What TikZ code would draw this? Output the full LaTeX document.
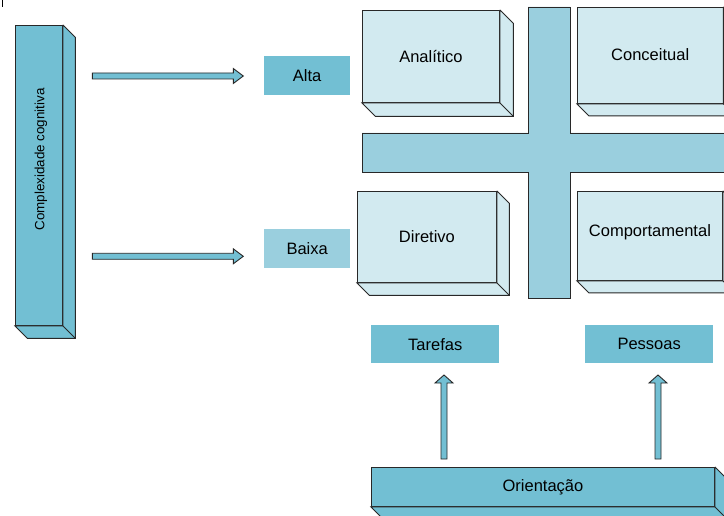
\documentclass[tikz,border=0pt]{standalone}
\usepackage{fontspec}
\setmainfont{Liberation Sans}
\usetikzlibrary{calc}
\definecolor{midblue}{RGB}{114,191,211}
\definecolor{lightblue}{RGB}{154,207,222}
\definecolor{paleblue}{RGB}{210,234,240}
\definecolor{edgegray}{RGB}{40,40,40}
% sides of a 3D box: node name, depth, fill colour
\newcommand\cubesides[3]{%
  \fill[#3] (#1.north east) -- ($(#1.north east)+(#2,#2)$) -- ($(#1.south east)+(#2,#2)$) -- ($(#1.south west)+(#2,#2)$) -- (#1.south west) -- (#1.south east) -- cycle;
  \draw[edgeline] (#1.north east) -- ($(#1.north east)+(#2,#2)$) -- ($(#1.south east)+(#2,#2)$) -- ($(#1.south west)+(#2,#2)$) -- (#1.south west) -- (#1.south east) -- (#1.north east);
  \draw[edgeline] (#1.south east) -- ($(#1.south east)+(#2,#2)$);}
% horizontal block arrow from coordinate #1 to coordinate #2
\newcommand\rightblk[2]{%
  \filldraw[fill=midblue, edgeline] ($(#1)+(0,-3)$) -- ($(#2)+(-10,-3)$) -- ($(#2)+(-10,-7.5)$) -- (#2) -- ($(#2)+(-10,7.5)$) -- ($(#2)+(-10,3)$) -- ($(#1)+(0,3)$) -- cycle;}
% vertical block arrow from coordinate #1 (bottom) up to coordinate #2 (tip)
\newcommand\upblk[2]{%
  \filldraw[fill=midblue, edgeline] ($(#1)+(-3,0)$) -- ($(#2)+(-3,8)$) -- ($(#2)+(-9,8)$) -- (#2) -- ($(#2)+(9,8)$) -- ($(#2)+(3,8)$) -- ($(#1)+(3,0)$) -- cycle;}
\begin{document}
\begin{tikzpicture}[x=1pt,y=-1pt,
  every node/.style={font=\fontsize{16.5}{19}\selectfont, text=black},
  edgeline/.style={draw=edgegray, line width=0.9pt, line join=miter},
  flatbox/.style={rectangle, inner sep=0pt, anchor=north west},
  front/.style={flatbox, edgeline},
  ]
\useasboundingbox (0,0) rectangle (724,516);
\clip (0,0) rectangle (724,516);
\fill[white] (0,0) rectangle (724,516);

% small mark at top left
\draw[line width=1pt, black] (2.5,0) -- (2.5,7);

% Complexidade cognitiva
\node[front, fill=midblue, minimum width=47, minimum height=300] (cc) at (15,25) {};
\cubesides{cc}{12.5}{midblue}
\node[rotate=90, font=\fontsize{13.4}{16}\selectfont] (cctext) at ($(cc.center)+(2,-16)$) {Complexidade cognitiva};

% arrows
\coordinate (a1s) at (92.3,76);
\coordinate (a1e) at (243.3,76);
\coordinate (a2s) at (92.3,256.3);
\coordinate (a2e) at (243.3,256.3);
\rightblk{a1s}{a1e}
\rightblk{a2s}{a2e}

% Alta / Baixa
\node[flatbox, fill=midblue, minimum width=86, minimum height=39] (alta) at (264,56) {Alta};
\node[flatbox, fill=lightblue, minimum width=86, minimum height=39] (baixa) at (264,229) {Baixa};

% cross
\filldraw[fill=lightblue, edgeline] (528,7) -- (570,7) -- (570,133) -- (740,133) -- (740,172) -- (570,172) -- (570,298) -- (528,298) -- (528,172) -- (362,172) -- (362,133) -- (528,133) -- cycle;

% four style boxes
\node[front, fill=paleblue, minimum width=137, minimum height=92] (ana) at (362,10) {Analítico};
\cubesides{ana}{13.5}{paleblue}
\node[front, fill=paleblue, minimum width=145.5, minimum height=96] (con) at (577,7) {\raisebox{2pt}{Conceitual}};
\cubesides{con}{12}{paleblue}
\node[front, fill=paleblue, minimum width=139, minimum height=91] (dir) at (357,191) {Diretivo};
\cubesides{dir}{12.5}{paleblue}
\node[front, fill=paleblue, minimum width=145, minimum height=89] (com) at (577,191) {\raisebox{11pt}{Comportamental}};
\cubesides{com}{12}{paleblue}

% Tarefas / Pessoas
\node[flatbox, fill=midblue, minimum width=128, minimum height=38] (tar) at (371,325) {Tarefas};
\node[flatbox, fill=midblue, minimum width=128, minimum height=38] (pes) at (585,325) {Pessoas};

% Orientação
\node[front, fill=midblue, minimum width=343, minimum height=39] (ori) at (371,467) {Orientação};
\cubesides{ori}{12}{midblue}

% up arrows
\coordinate (u1b) at (444,459);
\coordinate (u1t) at (444,375);
\coordinate (u2b) at (658,459);
\coordinate (u2t) at (658,375);
\upblk{u1b}{u1t}
\upblk{u2b}{u2t}
\end{tikzpicture}
\end{document}
